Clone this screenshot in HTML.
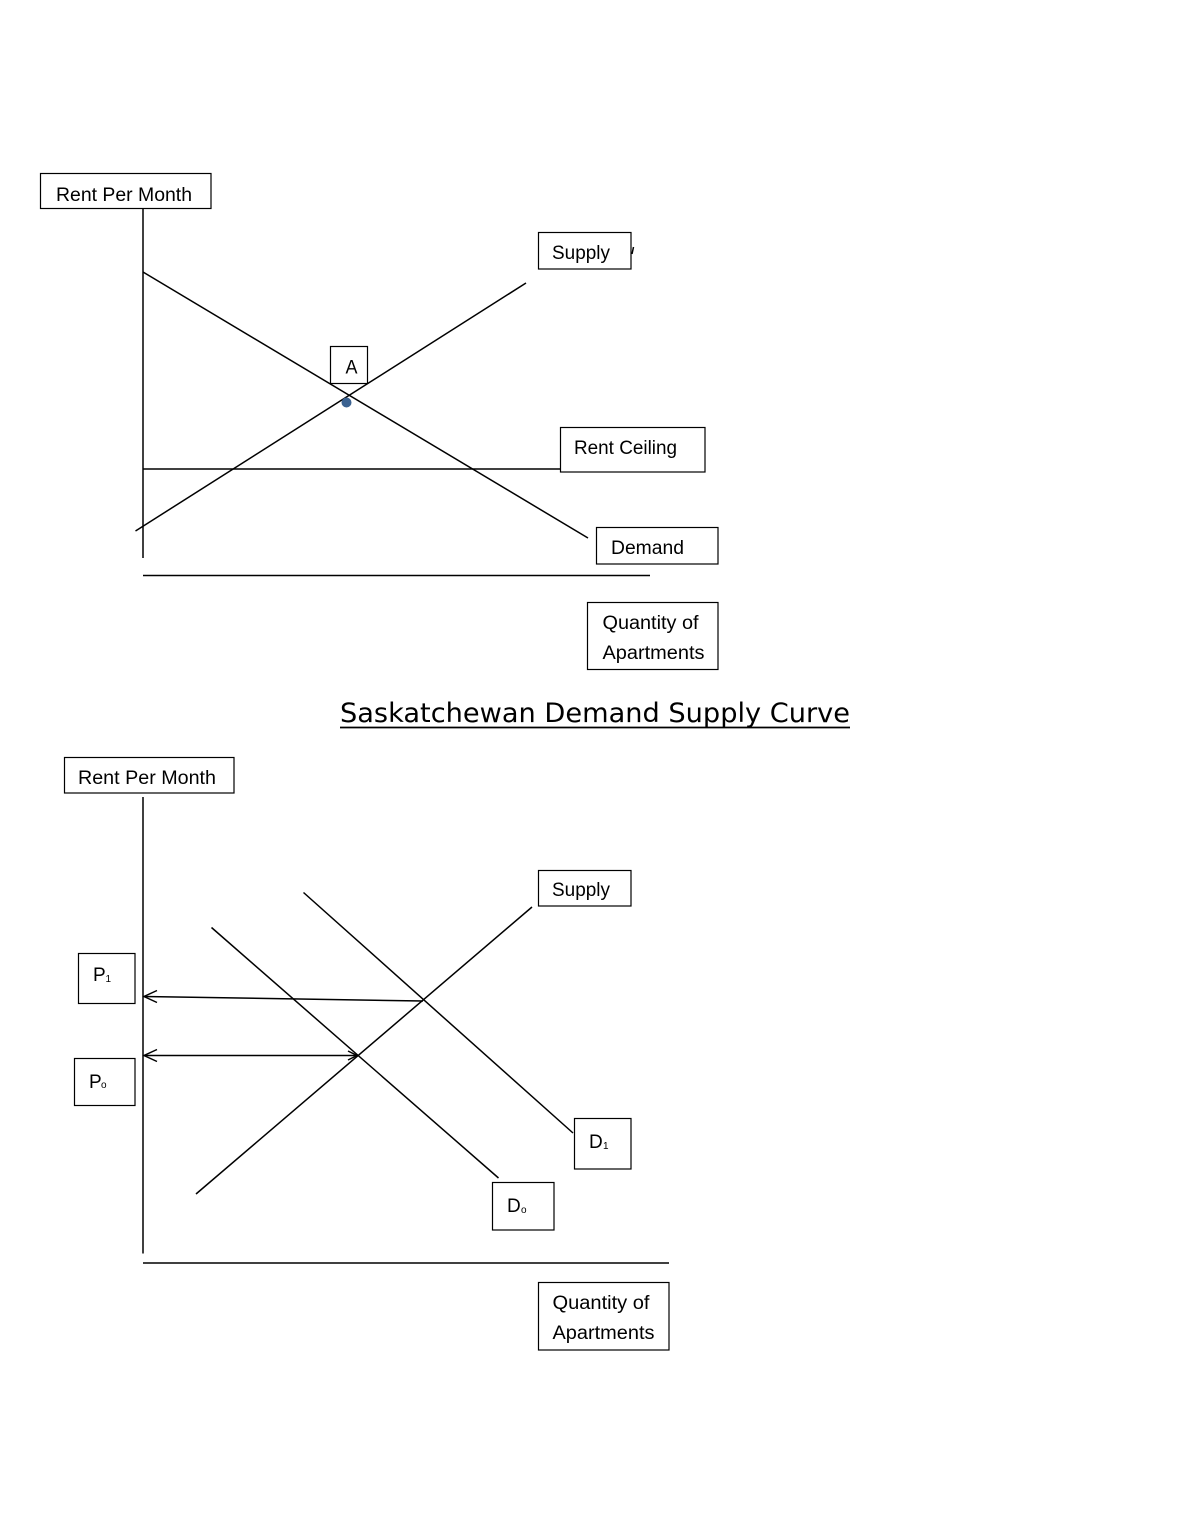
<!DOCTYPE html>
<html>
<head>
<meta charset="utf-8">
<style>
  html, body { margin:0; padding:0; background:#fff; }
  svg { display:block; }
  .lbl { font-family: "Liberation Sans", sans-serif; font-size:19px; fill:#000; }
  .sub { font-family: "Liberation Sans", sans-serif; font-size:10px; fill:#000; }
  .ttl { font-family: "DejaVu Sans", "Liberation Sans", sans-serif; font-size:27px; fill:#000; }
</style>
</head>
<body>
<svg width="1190" height="1540" viewBox="0 0 1190 1540" xmlns="http://www.w3.org/2000/svg">
  <rect x="0" y="0" width="1190" height="1540" fill="#fff"/>

  <!-- ===== TOP CHART ===== -->
  <g stroke="#000" stroke-width="1.5" fill="none">
    <!-- axes -->
    <line x1="143" y1="209" x2="143" y2="558"/>
    <line x1="143" y1="575.5" x2="650" y2="575.5"/>
    <!-- demand -->
    <line x1="143" y1="272" x2="588" y2="538"/>
    <!-- supply -->
    <line x1="135.5" y1="531" x2="526" y2="283"/>
    <!-- rent ceiling -->
    <line x1="143" y1="469" x2="560" y2="469"/>
    <!-- small tick near supply box -->
    <line x1="633.5" y1="247" x2="632" y2="254"/>
  </g>
  <g stroke="#000" stroke-width="1.2" fill="#fff">
    <rect x="40.5" y="173.5" width="170.5" height="35"/>
    <rect x="538.5" y="232.5" width="92.5" height="36.5"/>
    <rect x="330.5" y="346.5" width="37" height="37"/>
    <rect x="560.5" y="427.5" width="144.5" height="44.5"/>
    <rect x="596.5" y="527.5" width="121.5" height="36.5"/>
    <rect x="587.5" y="602.5" width="130.5" height="67"/>
  </g>
  <circle cx="346.5" cy="402.5" r="5" fill="#3b6291"/>

  <text class="lbl" x="56" y="201" textLength="136" lengthAdjust="spacingAndGlyphs">Rent Per Month</text>
  <text class="lbl" x="552" y="259" textLength="58" lengthAdjust="spacingAndGlyphs">Supply</text>
  <text class="lbl" x="345.5" y="373.5" textLength="12" lengthAdjust="spacingAndGlyphs">A</text>
  <text class="lbl" x="574" y="454" textLength="103" lengthAdjust="spacingAndGlyphs">Rent Ceiling</text>
  <text class="lbl" x="611" y="554" textLength="73" lengthAdjust="spacingAndGlyphs">Demand</text>
  <text class="lbl" x="602.5" y="629" textLength="96" lengthAdjust="spacingAndGlyphs">Quantity of</text>
  <text class="lbl" x="602.5" y="659" textLength="102" lengthAdjust="spacingAndGlyphs">Apartments</text>

  <!-- ===== TITLE ===== -->
  <text class="ttl" x="340" y="722" textLength="510" lengthAdjust="spacingAndGlyphs">Saskatchewan Demand Supply Curve</text>
  <line x1="340" y1="727.5" x2="850" y2="727.5" stroke="#000" stroke-width="1.8"/>

  <!-- ===== BOTTOM CHART ===== -->
  <g stroke="#000" stroke-width="1.5" fill="none">
    <!-- axes -->
    <line x1="143" y1="797" x2="143" y2="1253.5"/>
    <line x1="143" y1="1263" x2="669" y2="1263"/>
    <!-- supply -->
    <line x1="196" y1="1194" x2="532" y2="907"/>
    <!-- D0 -->
    <line x1="211.5" y1="927.5" x2="498.5" y2="1178"/>
    <!-- D1 -->
    <line x1="303.5" y1="892.5" x2="573" y2="1133"/>
    <!-- P1 arrow -->
    <line x1="423" y1="1001" x2="144" y2="996.5"/>
    <polyline points="157,990.5 144,996.5 157,1002.5"/>
    <!-- P0 arrow -->
    <line x1="357" y1="1055.5" x2="144" y2="1055.5"/>
    <polyline points="157,1049.5 144,1055.5 157,1061.5"/>
    <polyline points="348,1051 357,1055.5 348,1060"/>
  </g>
  <g stroke="#000" stroke-width="1.2" fill="#fff">
    <rect x="64.5" y="757.5" width="169.5" height="35.5"/>
    <rect x="538.5" y="870.5" width="92.5" height="35.5"/>
    <rect x="78.5" y="953.5" width="56.5" height="50"/>
    <rect x="74.5" y="1058.5" width="60.5" height="47"/>
    <rect x="574.5" y="1118.5" width="56.5" height="50.5"/>
    <rect x="492.5" y="1182.5" width="61.5" height="47.5"/>
    <rect x="538.5" y="1282.5" width="130.5" height="67.5"/>
  </g>

  <text class="lbl" x="78" y="784" textLength="138" lengthAdjust="spacingAndGlyphs">Rent Per Month</text>
  <text class="lbl" x="552" y="896" textLength="58" lengthAdjust="spacingAndGlyphs">Supply</text>

  <text class="lbl" x="93" y="981">P</text>
  <text class="sub" x="105.5" y="982">1</text>

  <text class="lbl" x="89" y="1088">P</text>
  <text class="sub" x="101" y="1088">o</text>

  <text class="lbl" x="589" y="1148">D</text>
  <text class="sub" x="603" y="1149">1</text>

  <text class="lbl" x="507" y="1212">D</text>
  <text class="sub" x="521" y="1213">o</text>

  <text class="lbl" x="552.5" y="1309" textLength="97" lengthAdjust="spacingAndGlyphs">Quantity of</text>
  <text class="lbl" x="552.5" y="1339" textLength="102" lengthAdjust="spacingAndGlyphs">Apartments</text>
</svg>
</body>
</html>
